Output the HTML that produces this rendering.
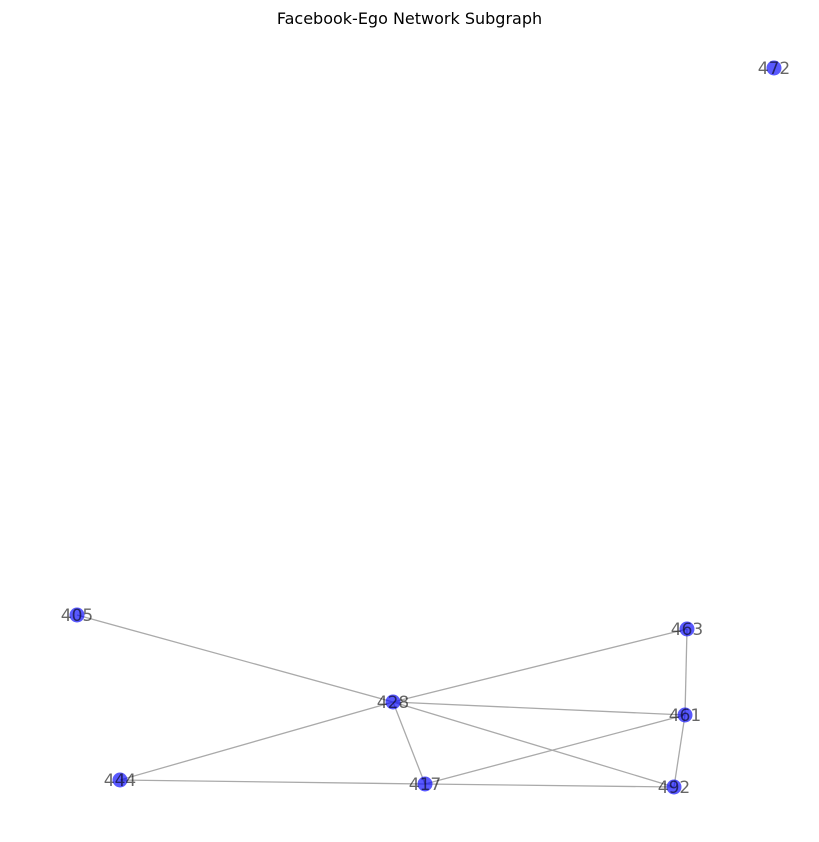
<!DOCTYPE html>
<html><head><meta charset="utf-8"><style>
html,body{margin:0;padding:0;background:#fff;}
svg{display:block;font-family:"DejaVu Sans","Liberation Sans",sans-serif;}
</style></head><body>
<svg id="chart" width="819" height="842">
<text x="409.5" y="24" text-anchor="middle" font-size="16" fill="#000">Facebook-Ego Network Subgraph</text>
<g id="edges"></g><g id="nodes"></g><g id="labels"></g>
</svg>
<script>
const nodeIds = ["472","405","463","428","461","444","417","492"];
const nodeX = [774, 77, 687, 393, 685, 120, 425, 674];
const nodeY = [68, 615, 629, 702, 715, 780, 784, 787];
const edgeFrom = ["405","428","428","428","428","428","463","461","461","444","417"];
const edgeTo   = ["428","463","461","444","417","492","461","417","492","417","492"];
const NS="http://www.w3.org/2000/svg";
const eg=document.getElementById('edges'),ng=document.getElementById('nodes'),lg=document.getElementById('labels');
function pos(id){const i=nodeIds.indexOf(id);return [nodeX[i],nodeY[i]];}
edgeFrom.forEach((f,k)=>{
  const a=pos(f),b=pos(edgeTo[k]);
  const l=document.createElementNS(NS,'line');
  l.setAttribute('x1',a[0]);l.setAttribute('y1',a[1]);l.setAttribute('x2',b[0]);l.setAttribute('y2',b[1]);
  l.setAttribute('stroke','#aaaaaa');l.setAttribute('stroke-width','1.3');
  
  
  eg.appendChild(l);
});
nodeIds.forEach((id,i)=>{
  const c=document.createElementNS(NS,'circle');
  c.setAttribute('cx',nodeX[i]);c.setAttribute('cy',nodeY[i]);c.setAttribute('r','7.5');
  c.setAttribute('fill','#0000ff');c.setAttribute('fill-opacity','0.65');
  
  
  ng.appendChild(c);
  const t=document.createElementNS(NS,'text');
  t.setAttribute('x',nodeX[i]);t.setAttribute('y',nodeY[i]+6);
  t.setAttribute('text-anchor','middle');t.setAttribute('font-size','17');
  t.setAttribute('fill','#000');t.setAttribute('fill-opacity','0.6');
  t.textContent=id;
  
  
  lg.appendChild(t);
});
</script>
</body></html>
